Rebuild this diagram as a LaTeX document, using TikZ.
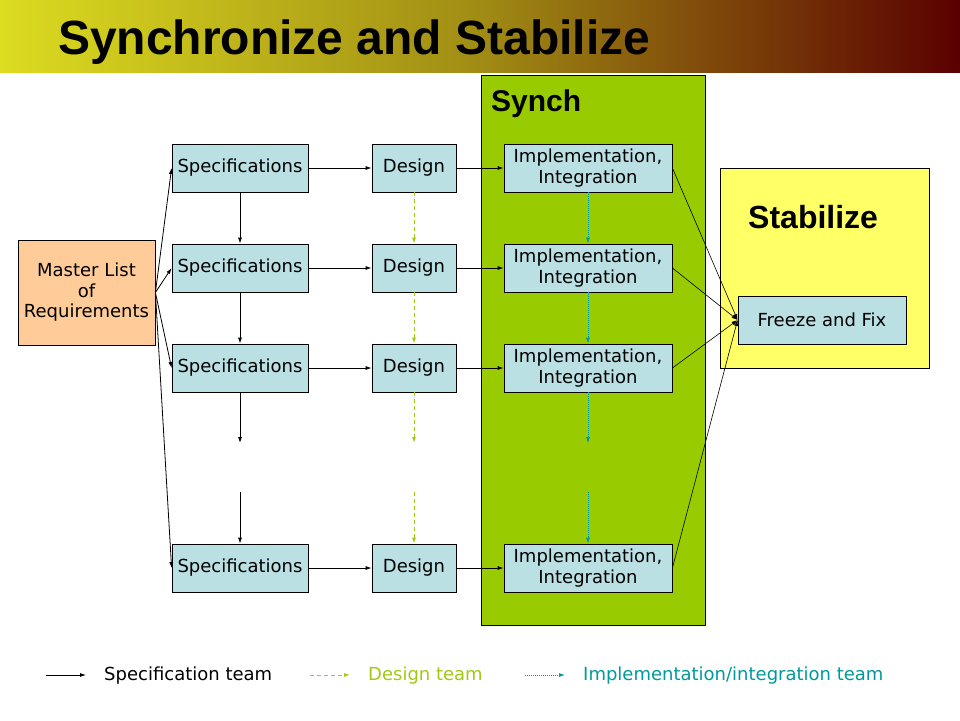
\documentclass[tikz,border=0pt]{standalone}
\usepackage{fontspec}
\setmainfont{DejaVu Sans}
\newfontfamily\headfont{Liberation Sans}
\usetikzlibrary{arrows.meta,positioning}
\definecolor{boxblue}{RGB}{187,224,228}
\definecolor{peach}{RGB}{255,204,153}
\definecolor{synchgreen}{RGB}{153,204,0}
\definecolor{stabyellow}{RGB}{255,255,102}
\definecolor{designgreen}{RGB}{160,200,20}
\definecolor{implteal}{RGB}{0,153,153}
\definecolor{barleft}{RGB}{220,220,32}
\definecolor{barmid}{RGB}{160,140,20}
\definecolor{barright}{RGB}{90,0,0}
\begin{document}
\begin{tikzpicture}[x=1pt, y=-1pt,
  box/.style={draw, rectangle, line width=0.8pt, fill=boxblue, minimum height=48pt, inner sep=0pt, align=center, font=\fontsize{18}{21}\selectfont},
  spec/.style={box, minimum width=136pt},
  des/.style={box, minimum width=84pt},
  impl/.style={box, minimum width=168pt},
  specarrow/.style={-{Latex[length=6pt,width=4pt]}, line width=0.8pt},
  desarrow/.style={-{Latex[length=6pt,width=4pt]}, line width=1pt, designgreen, dash pattern=on 4pt off 3pt},
  implarrow/.style={-{Latex[length=6pt,width=4pt]}, line width=0.7pt, implteal, dash pattern=on 1pt off 1pt},
  legend/.style={anchor=west, inner sep=0pt, font=\fontsize{18}{21}\selectfont},
  heading/.style={anchor=base west, inner sep=0pt, font=\headfont\bfseries\fontsize{30}{32}\selectfont}]
\useasboundingbox (0,0) rectangle (960,720);
\shade [left color=barleft, right color=barright, middle color=barmid] (0,0) rectangle (960,72);
\node (title) [anchor=base west, inner sep=0pt, font=\headfont\bfseries\fontsize{48}{50}\selectfont] at (58,54) {Synchronize and Stabilize};

\node (synch) [draw, line width=0.8pt, fill=synchgreen, minimum width=224pt, minimum height=550pt, inner sep=0pt] at (593,350) {};
\node (stabilize) [draw, line width=0.8pt, fill=stabyellow, minimum width=209pt, minimum height=200pt, inner sep=0pt] at (824.5,268) {};
\node (synchlabel) [heading] at (491,111) {Synch};
\node (stabilizelabel) [heading, font=\headfont\bfseries\fontsize{32}{34}\selectfont] at (748,228) {Stabilize};

\node (master) [draw, line width=0.8pt, fill=peach, minimum width=137pt, minimum height=105pt, inner sep=0pt, align=center, font=\fontsize{18}{20.5}\selectfont] at (86.5,292.5) {Master List\\ of\\Requirements};

\node (spec1) [spec] at (240,168) {Specifications};
\node (spec2) [spec, below of=spec1, node distance=100pt] {Specifications};
\node (spec3) [spec, below of=spec2, node distance=100pt] {Specifications};
\node (spec4) [spec, below of=spec3, node distance=200pt] {Specifications};

\node (design1) [des, right of=spec1, node distance=174pt] {Design};
\node (design2) [des, right of=spec2, node distance=174pt] {Design};
\node (design3) [des, right of=spec3, node distance=174pt] {Design};
\node (design4) [des, right of=spec4, node distance=174pt] {Design};

\node (impl1) [impl, right of=design1, node distance=174pt] {Implementation,\\Integration};
\node (impl2) [impl, right of=design2, node distance=174pt] {Implementation,\\Integration};
\node (impl3) [impl, right of=design3, node distance=174pt] {Implementation,\\Integration};
\node (impl4) [impl, right of=design4, node distance=174pt] {Implementation,\\Integration};

\node (freeze) [impl] at (822,320) {Freeze and Fix};

\coordinate (specgap) at ([yshift=-75pt]spec3.center);
\coordinate (specgapd) at ([yshift=76pt]spec4.center);
\coordinate (designgap) at ([yshift=-75pt]design3.center);
\coordinate (designgapd) at ([yshift=76pt]design4.center);
\coordinate (implgap) at ([yshift=-75pt]impl3.center);
\coordinate (implgapd) at ([yshift=76pt]impl4.center);

\foreach \i in {1,...,4}{
  \draw [specarrow](master.east)--(spec\i.west);
  \draw [specarrow](spec\i)--(design\i);
  \draw [specarrow](design\i)--(impl\i);
  \draw [specarrow, line width=0.6pt](impl\i.east)--(freeze.west);
}

\draw [specarrow](spec1)--(spec2);
\draw [specarrow](spec2)--(spec3);
\draw [specarrow](spec3)--(specgap);
\draw [specarrow](specgapd)--(spec4);
\draw [desarrow](design1)--(design2);
\draw [desarrow](design2)--(design3);
\draw [desarrow](design3)--(designgap);
\draw [desarrow](designgapd)--(design4);
\draw [implarrow](impl1)--(impl2);
\draw [implarrow](impl2)--(impl3);
\draw [implarrow](impl3)--(implgap);
\draw [implarrow](implgapd)--(impl4);

\coordinate (legspec) at (46,675);
\coordinate (legspecd) at (86,675);
\node (legspectext) [legend] at (104,676) {Specification team};
\coordinate (legdesign) at (310,675);
\coordinate (legdesignd) at (350,675);
\node (legdesigntext) [legend, text=designgreen] at (368,676) {Design team};
\coordinate (legimpl) at (525,675);
\coordinate (legimpld) at (565,675);
\node (legimpltext) [legend, text=implteal] at (583,676) {Implementation/integration team};
\draw [specarrow](legspec)--(legspecd);
\draw [desarrow](legdesign)--(legdesignd);
\draw [implarrow](legimpl)--(legimpld);
\end{tikzpicture}
\end{document}
